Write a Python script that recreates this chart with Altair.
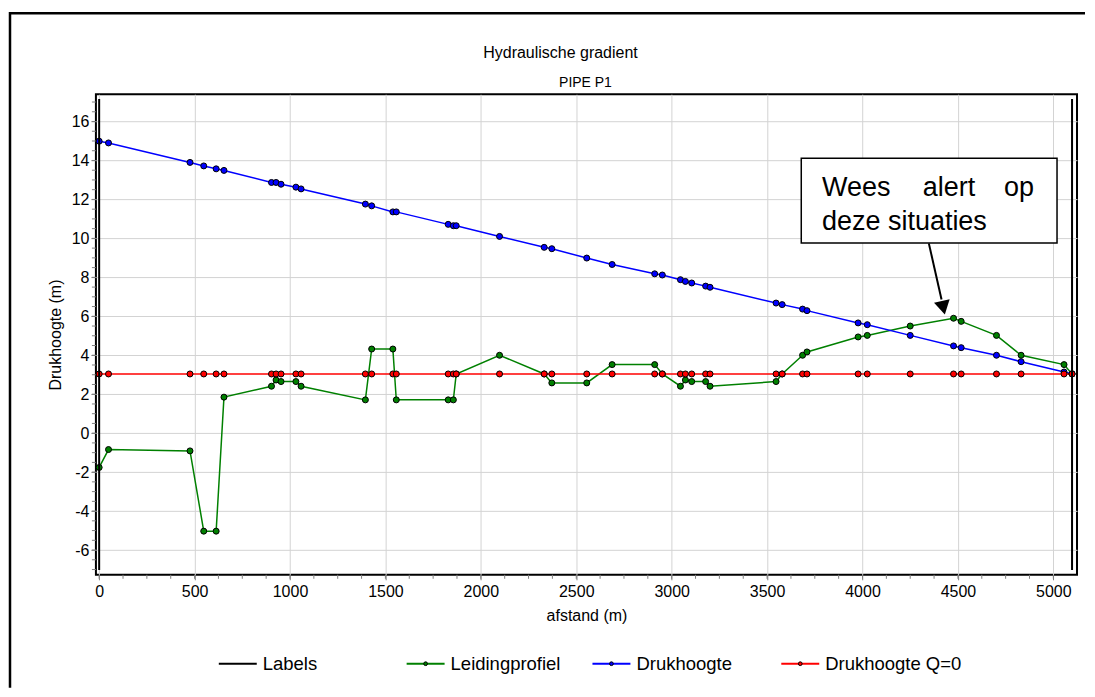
import altair as alt
import pandas as pd

# ---------------- data ----------------
dist = [0, 49, 476, 548, 613, 654, 903, 927, 953, 1031, 1058, 1395, 1428, 1539, 1557,
        1829, 1856, 1871, 2098, 2332, 2372, 2555, 2688, 2911, 2951, 3046, 3072, 3105,
        3178, 3201, 3547, 3579, 3686, 3709, 3977, 4025, 4250, 4477, 4517, 4702, 4831,
        5056, 5098]
leidingprofiel = [-1.76, -0.84, -0.91, -5.03, -5.03, 1.85, 2.41, 2.73, 2.65, 2.65, 2.41,
                  1.71, 4.32, 4.32, 1.71, 1.71, 1.71, 3.04, 4.0, 3.04, 2.58, 2.58, 3.52,
                  3.52, 3.04, 2.41, 2.73, 2.65, 2.65, 2.41, 2.65, 3.04, 4.0, 4.17, 4.94,
                  5.02, 5.5, 5.9, 5.74, 5.02, 4.0, 3.52, 3.04]
drukhoogte = [14.99, 14.9, 13.9, 13.72, 13.57, 13.49, 12.87, 12.87, 12.78, 12.63, 12.54,
              11.76, 11.67, 11.36, 11.36, 10.72, 10.65, 10.65, 10.1, 9.54, 9.47, 8.99,
              8.66, 8.18, 8.12, 7.88, 7.79, 7.71, 7.55, 7.49, 6.68, 6.6, 6.37, 6.29,
              5.66, 5.57, 5.02, 4.48, 4.39, 4.0, 3.67, 3.14, 3.05]
drukhoogte_q0 = [3.04, 3.04, 3.04, 3.04, 3.04, 3.04, 3.04, 3.04, 3.04, 3.04, 3.04,
                 3.04, 3.04, 3.04, 3.04, 3.04, 3.04, 3.04, 3.04, 3.04, 3.04, 3.04,
                 3.04, 3.04, 3.04, 3.04, 3.04, 3.04, 3.04, 3.04, 3.04, 3.04, 3.04,
                 3.04, 3.04, 3.04, 3.04, 3.04, 3.04, 3.04, 3.04, 3.04, 3.04]
labels_x = [0, 5098]
labels_y_bottom = [-7.03, -7.03]
labels_y_top = [17.16, 17.16]

series_names = ["Labels", "Leidingprofiel", "Drukhoogte", "Drukhoogte Q=0"]
series_colors = ["#000000", "#008000", "#0000ff", "#ff0000"]

x_ticks = [0, 500, 1000, 1500, 2000, 2500, 3000, 3500, 4000, 4500, 5000]
y_ticks = [-6, -4, -2, 0, 2, 4, 6, 8, 10, 12, 14, 16]
x_minor = [125 * i for i in range(0, 41)]
y_minor = [0.5 * i for i in range(-14, 35)]

# ---------------- layout ----------------
W, H = 982, 481
FONT = "Liberation Sans"
xs = alt.Scale(domain=[-17, 5124], nice=False, zero=False)
ys = alt.Scale(domain=[-7.27, 17.4], nice=False, zero=False)

common_axis = dict(grid=True, gridColor="#d3d3d3", gridWidth=1, domain=False,
                   tickColor="#808080", tickSize=5, labelFontSize=16, labelFont=FONT,
                   labelColor="black", labelFlush=False, labelOverlap=False,
                   labelExpr="'' + datum.value",
                   titleFontSize=16, titleFont=FONT, titleFontWeight="normal",
                   titleColor="black", titleBaseline="middle")
xaxis = alt.Axis(values=x_ticks, title="afstand (m)", labelPadding=4,
                 titleX=491, titleY=41, **common_axis)
yaxis = alt.Axis(values=y_ticks, title="Drukhoogte (m)", labelPadding=2,
                 titleX=-40, titleY=240.5, titleAngle=270, titleAlign="center",
                 **common_axis)

X = alt.X("x:Q", scale=xs, axis=xaxis)
Y = alt.Y("y:Q", scale=ys, axis=yaxis)

rows = []
for name, vals in [("Leidingprofiel", leidingprofiel), ("Drukhoogte", drukhoogte),
                   ("Drukhoogte Q=0", drukhoogte_q0)]:
    for d, v in zip(dist, vals):
        rows.append({"x": d, "y": v, "series": name})
df = pd.DataFrame(rows)

df_lab = pd.DataFrame({"x": labels_x, "y": labels_y_bottom, "y2": labels_y_top})

color_scale = alt.Scale(domain=series_names, range=series_colors)

lines = alt.Chart(df).mark_line(strokeWidth=1.5).encode(
    x=X, y=Y,
    color=alt.Color("series:N", scale=color_scale, legend=None),
)
points = alt.Chart(df).mark_point(filled=True, size=36, stroke="black", strokeWidth=1,
                                  opacity=1).encode(
    x=X, y=Y,
    fill=alt.Fill("series:N", scale=alt.Scale(domain=series_names, range=series_colors),
                  legend=None),
)
label_lines = alt.Chart(df_lab).mark_rule(color="black", strokeWidth=2).encode(
    x=X, y=Y, y2="y2:Q")

xminor = alt.Chart(pd.DataFrame({"x": x_minor})).mark_rule(
    color="#808080", strokeWidth=1).encode(x=X, y=alt.value(H), y2=alt.value(H + 4))
yminor = alt.Chart(pd.DataFrame({"y": y_minor})).mark_rule(
    color="#808080", strokeWidth=1).encode(y=Y, x=alt.value(-4), x2=alt.value(0))

one = pd.DataFrame({"a": [0]})
base = alt.Chart(one)

# ---------------- legend (drawn manually, bottom row) ----------------
LEG_Y = 570
leg_sym_start = [123, 311, 497, 686]
SYM_W = 38
LBL_GAP = 6
legend_layers = []
for i, (name, col) in enumerate(zip(series_names, series_colors)):
    x0 = leg_sym_start[i]
    legend_layers.append(base.mark_rule(color=col, strokeWidth=2).encode(
        x=alt.value(x0), x2=alt.value(x0 + SYM_W), y=alt.value(LEG_Y)))
    if i > 0:
        legend_layers.append(base.mark_point(filled=True, fill=col, stroke="black",
                                             strokeWidth=1, size=14, opacity=1).encode(
            x=alt.value(x0 + SYM_W / 2), y=alt.value(LEG_Y)))
    legend_layers.append(base.mark_text(text=name, fontSize=18.5, font=FONT,
                                        align="left", baseline="middle",
                                        color="black").encode(
        x=alt.value(x0 + SYM_W + LBL_GAP), y=alt.value(LEG_Y)))

# outer border (top and left edges visible)
border_left = base.mark_rule(color="black", strokeWidth=2.5).encode(
    x=alt.value(-86), y=alt.value(-82.2), y2=alt.value(594))
border_top = base.mark_rule(color="black", strokeWidth=2.5).encode(
    x=alt.value(-86), x2=alt.value(990), y=alt.value(-81))

title1 = base.mark_text(text="Hydraulische gradient", fontSize=16, font=FONT,
                        align="center", baseline="middle", color="black").encode(
    x=alt.value(465), y=alt.value(-41))
title2 = base.mark_text(text="PIPE P1", fontSize=14, font=FONT,
                        align="center", baseline="middle", color="black").encode(
    x=alt.value(490), y=alt.value(-11))

# annotation
box = base.mark_rect(fill="white", stroke="black", strokeWidth=1.5).encode(
    x=alt.value(706), x2=alt.value(962), y=alt.value(64), y2=alt.value(149))
t_wees = base.mark_text(text="Wees", fontSize=27, font=FONT, align="left",
                        baseline="alphabetic", color="black").encode(
    x=alt.value(726.7), y=alt.value(102.3))
t_alert = base.mark_text(text="alert", fontSize=27, font=FONT, align="left",
                         baseline="alphabetic", color="black").encode(
    x=alt.value(827.7), y=alt.value(102.3))
t_op = base.mark_text(text="op", fontSize=27, font=FONT, align="right",
                      baseline="alphabetic", color="black").encode(
    x=alt.value(939), y=alt.value(102.3))
t_deze = base.mark_text(text="deze situaties", fontSize=27, font=FONT, align="left",
                        baseline="alphabetic", color="black").encode(
    x=alt.value(726.7), y=alt.value(135.7))
arrow_line = base.mark_rule(color="black", strokeWidth=2).encode(
    x=alt.value(833.7), y=alt.value(149.3), x2=alt.value(846.4), y2=alt.value(205.4))
arrow_head = base.mark_point(shape="triangle-down", filled=True, color="black",
                             size=256, angle=347.6, opacity=1).encode(
    x=alt.value(848.2), y=alt.value(213.7))

chart = alt.layer(
    xminor, yminor, lines, points, label_lines,
    box, t_wees, t_alert, t_op, t_deze, arrow_line, arrow_head,
    title1, title2, border_left, border_top, *legend_layers,
).properties(
    width=W, height=H,
    padding={"left": 0, "top": 2, "right": 0, "bottom": 0},
    background="white",
).configure(
    font=FONT,
    view=alt.ViewConfig(stroke="black", strokeWidth=2),
)

chart.save("out.html", embed_options={"renderer": "svg", "actions": False})
